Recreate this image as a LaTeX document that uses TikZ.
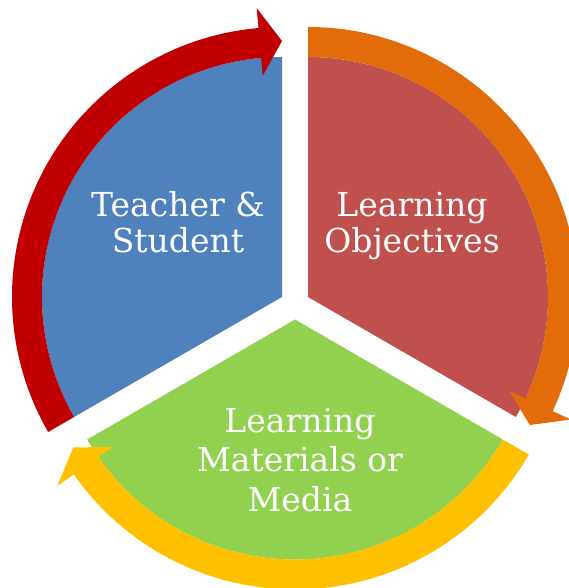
\documentclass[tikz,border=0pt]{standalone}
\usepackage{fontspec}
\setmainfont{DejaVu Serif}
\usetikzlibrary{calc}
\definecolor{secblue}{HTML}{4F81BD}
\definecolor{secred}{HTML}{C0504D}
\definecolor{secgreen}{HTML}{92D050}
\definecolor{arrred}{HTML}{C00000}
\definecolor{arrorange}{HTML}{E36C0A}
\definecolor{arryellow}{HTML}{FFC000}
\newcommand\myarcarrow[4]{%
  \fill[#4] ($(#1)+(#2:240)$) arc[start angle=#2,end angle={#3+5},radius=240]
    -- ($(#1)+({#3+5}:222)$) -- ($(#1)+(#3:256)$) -- ($(#1)+({#3+5}:290)$)
    -- ($(#1)+({#3+5}:270)$) arc[start angle={#3+5},end angle=#2,radius=270] -- cycle;}
\newcommand\mysector[4]{%
  \fill[#4] (#1) -- ($(#1)+(#2:240)$) arc[start angle=#2,end angle=#3,radius=240] -- cycle;}
\tikzset{
  lbltwo/.style={text=white, align=center, inner sep=0pt, font=\fontsize{33}{36.5}\selectfont},
  lblthree/.style={text=white, align=center, inner sep=0pt, font=\fontsize{33}{39.5}\selectfont}
}
\begin{document}
\begin{tikzpicture}[x=1pt,y=1pt]
\useasboundingbox (0,0) rectangle (569,588);
\clip (0,0) rectangle (569,588);
\coordinate (B) at (282,291);
\coordinate (R) at (308,291);
\coordinate (G) at (295,268.5);
\mysector{B}{90}{210}{secblue}
\mysector{R}{-30}{90}{secred}
\mysector{G}{210}{330}{secgreen}
\myarcarrow{B}{210}{90}{arrred}
\myarcarrow{R}{90}{-30}{arrorange}
\myarcarrow{G}{330}{210}{arryellow}
\node[lbltwo] (ts) at (178,366) {Teacher \&\\Student};
\node[lbltwo] (lo) at (412,362) {Learning\\Objectives};
\node[lblthree] (lm) at (300,128) {Learning\\Materials or\\Media};
\end{tikzpicture}
\end{document}
